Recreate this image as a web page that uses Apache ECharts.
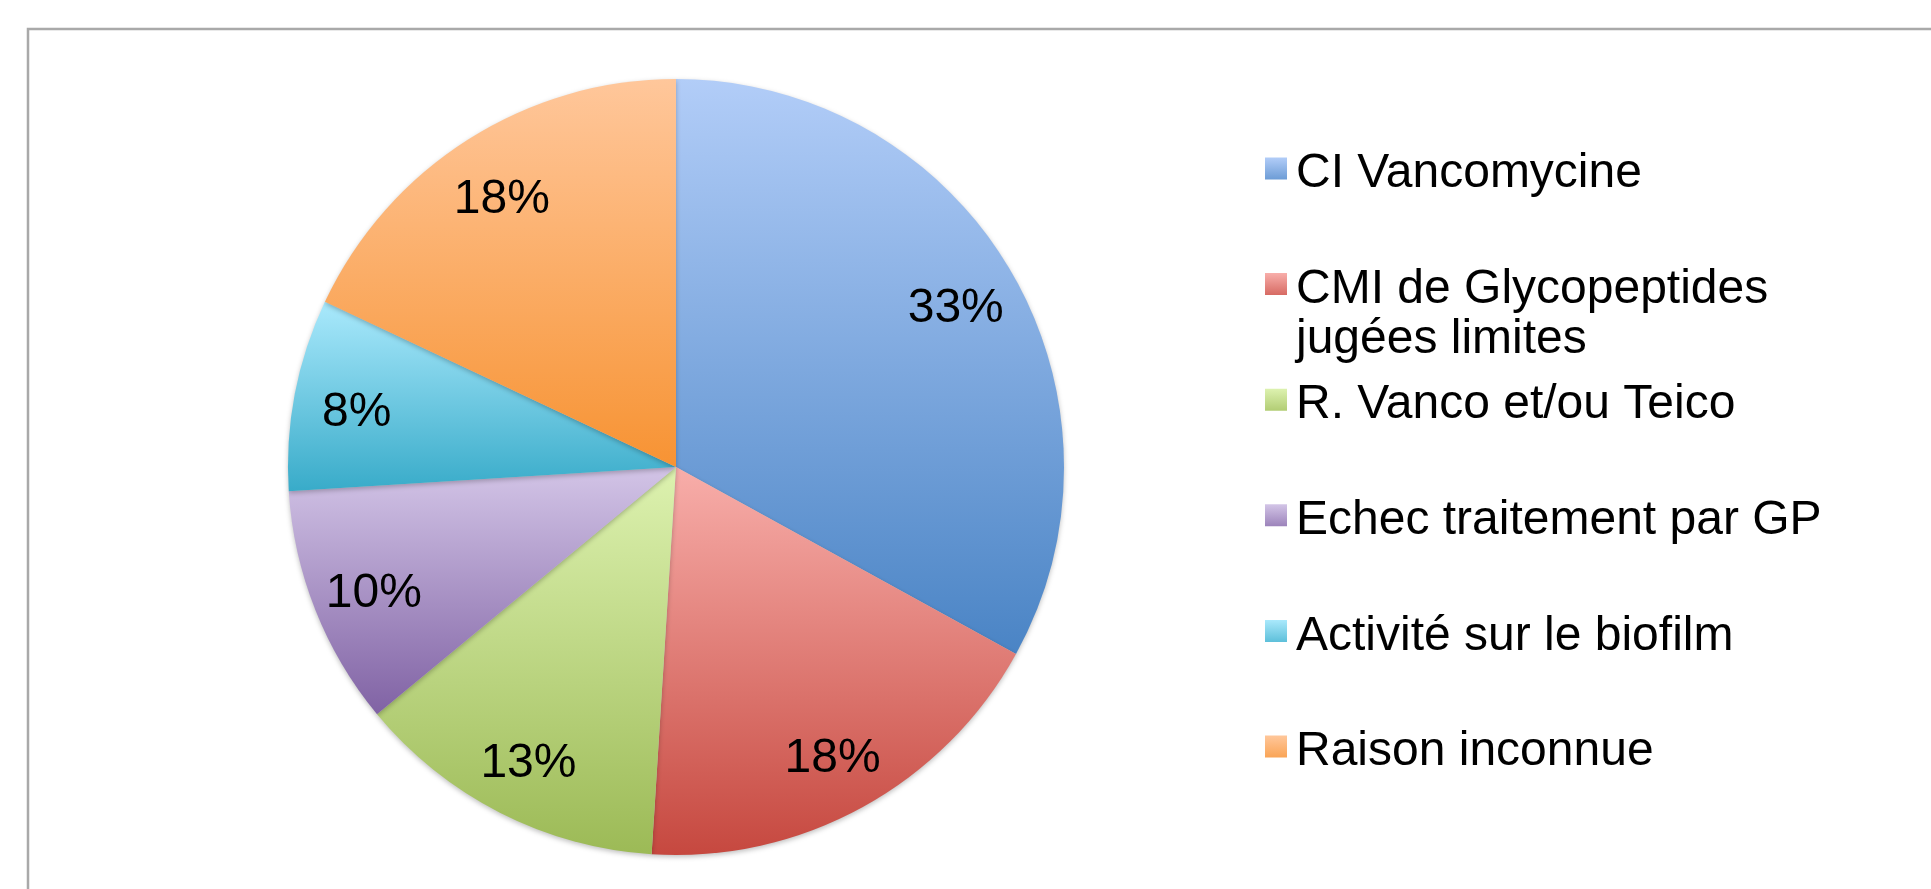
<!DOCTYPE html>
<html>
<head>
<meta charset="utf-8">
<script src="https://cdn.jsdelivr.net/npm/echarts@6/dist/echarts.min.js"></script>
<style>
  body { margin: 0; background: #fff; }
  #chart { width: 1931px; height: 889px; }
</style>
</head>
<body>
<div id="chart"></div>
<script>
// reasons, in clockwise order from 12 o'clock
const categories = [
  'CI Vancomycine',
  'CMI de Glycopeptides\njugées limites',
  'R. Vanco et/ou Teico',
  'Echec traitement par GP',
  'Activité sur le biofilm',
  'Raison inconnue'
]
const shares = [33, 18, 13, 10, 8, 18]
// gradient top / bottom per slice
const topColors = ['#b2cdf8', '#f8aeaa', '#ddf2b0', '#d3c5e7', '#aae9fc', '#ffc79b']
const bottomColors = ['#4a84c5', '#c6483f', '#9cba56', '#8062a4', '#38abc9', '#f79333']

const FONT = '"Liberation Sans", Arial, Helvetica, sans-serif'
const cx = 676, cy = 467, R = 388

const chart = echarts.init(document.getElementById('chart'))

const pieData = categories.map((name, i) => ({
  name: name,
  value: shares[i],
  itemStyle: {
    color: new echarts.graphic.LinearGradient(0, 0, 0, 1, [
      { offset: 0, color: topColors[i] },
      { offset: 1, color: bottomColors[i] }
    ])
  }
}))

// square sits in the top part of the icon box, so the text lines up a bit below it
const legendIcon = 'path://M0,0H22V22H0Z M0,33L22,33'

// one legend per entry so the spacing follows the original slots
const legendStep = 115.6
const legends = categories.map((name, i) => {
  // extra empty line on top keeps the marker next to the first line
  const lines = name.includes('\n') ? name.split('\n').length + 1 : 1
  const half = lines * 50 / 2
  return {
    data: [name],
    orient: 'vertical',
    left: 1265,
    top: 174 + i * legendStep - half,
    padding: 0,
    icon: legendIcon,
    itemWidth: 22,
    itemHeight: 33,
    selectedMode: false,
    formatter: n => n.includes('\n') ? '\n' + n : n,
    textStyle: {
      fontFamily: FONT,
      fontSize: 48,
      lineHeight: 50,
      color: '#000',
      padding: [0, 0, 0, 4]
    }
  }
})

const option = {
  backgroundColor: '#fff',
  animation: false,
  graphic: [{
    type: 'rect',
    shape: { x: 28, y: 29, width: 2000, height: 1000 },
    style: { fill: 'none', stroke: '#a9a9a9', lineWidth: 2.5 },
    silent: true
  }],
  legend: legends,
  series: [
    {
      type: 'pie',
      center: [cx, cy],
      radius: R,
      startAngle: 90,
      clockwise: true,
      label: { show: false },
      labelLine: { show: false },
      itemStyle: {
        shadowBlur: 5,
        shadowOffsetY: 2,
        shadowColor: 'rgba(0,0,0,0.25)'
      },
      emphasis: { disabled: true },
      data: pieData
    },
    {
      // transparent ring only used to place the percentage labels
      type: 'pie',
      center: [cx, cy],
      radius: [256, R],
      startAngle: 90,
      clockwise: true,
      silent: true,
      itemStyle: { color: 'rgba(0,0,0,0)' },
      label: {
        show: true,
        position: 'inside',
        offset: [0, 7],
        formatter: p => p.value + '%',
        fontFamily: FONT,
        fontSize: 48,
        color: '#000'
      },
      labelLine: { show: false },
      emphasis: { disabled: true },
      data: categories.map((name, i) => ({ name: name, value: shares[i] }))
    }
  ]
}

chart.setOption(option)
</script>
</body>
</html>
